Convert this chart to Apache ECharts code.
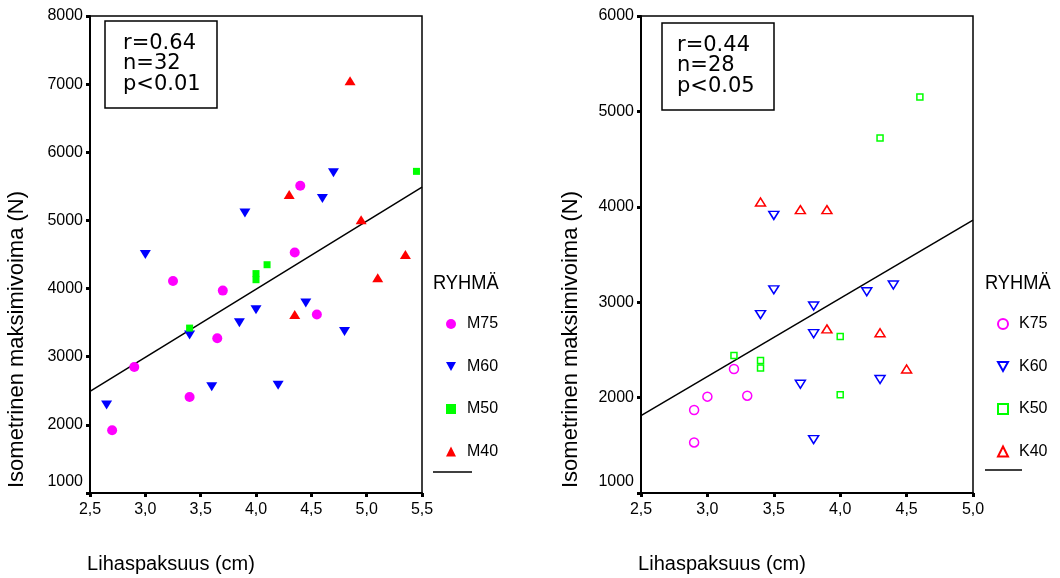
<!DOCTYPE html>
<html>
<head>
<meta charset="utf-8">
<script src="https://cdn.jsdelivr.net/npm/echarts@6/dist/echarts.min.js"></script>
<style>html,body{margin:0;padding:0;background:#fff}#c{width:1060px;height:578px}</style>
</head>
<body>
<div id="c"></div>
<script>
// ---- data (x = Lihaspaksuus cm, y = Isometrinen maksimivoima N) ----
const m75 = [[4.4,5510],[4.35,4530],[3.25,4110],[3.7,3970],[4.55,3620],[3.65,3270],[2.9,2850],[3.4,2410],[2.7,1920]];
const m60 = [[4.7,5700],[4.6,5320],[3.9,5110],[3.0,4500],[4.45,3790],[4.0,3690],[3.85,3500],[3.4,3320],[4.8,3370],[3.6,2560],[4.2,2580],[2.65,2290]];
const m50 = [[5.45,5720],[4.1,4350],[4.0,4220],[4.0,4130],[3.4,3420]];
const m40 = [[4.85,7050],[4.3,5380],[4.95,5010],[5.35,4500],[5.1,4160],[4.35,3620]];
const fitM = [[2.5,2490],[5.5,5490]];

const k75 = [[3.2,2300],[3.0,2010],[3.3,2020],[2.9,1870],[2.9,1530]];
const k60 = [[3.5,3910],[3.5,3130],[4.4,3180],[4.2,3110],[3.8,2960],[3.4,2870],[3.8,2670],[3.7,2140],[4.3,2190],[3.8,1560]];
const k50 = [[4.6,5150],[4.3,4720],[3.2,2440],[3.4,2390],[3.4,2310],[4.0,2640],[4.0,2030]];
const k40 = [[3.4,4050],[3.7,3970],[3.9,3970],[3.9,2720],[4.3,2680],[4.5,2300]];
const fitK = [[2.5,1810],[5.0,3860]];

const groupsM = ['M75','M60','M50','M40'];
const groupsK = ['K75','K60','K50','K40'];
const statsM = ['r=0.64','n=32','p<0.01'];
const statsK = ['r=0.44','n=28','p<0.05'];
const xTitle = 'Lihaspaksuus (cm)';
const yTitle = 'Isometrinen maksimivoima (N)';
const legendTitle = 'RYHMÄ';

const FONT = '"Liberation Sans", Arial, sans-serif';
const MAG = '#ff00ff', BLU = '#0000ff', GRN = '#00ff00', RED = '#ff0000';
const DOWN = 'path://M0,0 L10,0 L5,9 Z';

function xAxisOf(idx, min, max) {
  return {
    gridIndex: idx, type: 'value', min: min, max: max, interval: 0.5,
    name: xTitle, nameLocation: 'middle', nameGap: 61,
    nameTextStyle: {fontFamily: FONT, fontSize: 20, color: '#000', padding: [0, 170, 0, 0]},
    axisLine: {lineStyle: {color: '#000', width: 2}},
    axisTick: {length: 4, lineStyle: {color: '#000', width: 3}},
    axisLabel: {fontFamily: FONT, fontSize: 16, color: '#000', margin: 9,
      formatter: v => v.toFixed(1).replace('.', ',')},
    splitLine: {show: false}
  };
}
function yAxisOf(idx, min, max, gap) {
  return {
    gridIndex: idx, type: 'value', min: min, max: max, interval: 1000,
    name: yTitle, nameLocation: 'middle', nameGap: gap, nameRotate: 90,
    nameTextStyle: {fontFamily: FONT, fontSize: 22, color: '#000', padding: [0, 170, 0, 0]},
    axisLine: {lineStyle: {color: '#000', width: 2}},
    axisTick: {length: 4, lineStyle: {color: '#000', width: 3}},
    axisLabel: {fontFamily: FONT, fontSize: 16, color: '#000', margin: 7,
      formatter: v => v === min ? '{lo|' + v + '}' : String(v),
      rich: {lo: {fontFamily: FONT, fontSize: 16, color: '#000', padding: [0, 0, 22, 0]}}},
    splitLine: {show: false}
  };
}

const filled = c => ({color: c, opacity: 1});
const hollow = c => ({color: '#fff', borderColor: c, borderWidth: 1.5, opacity: 1});

function legendOf(names, left) {
  return {
    data: [
      {name: names[0], icon: 'circle'},
      {name: names[1], icon: DOWN},
      {name: names[2], icon: 'rect'},
      {name: names[3], icon: 'triangle'}
    ],
    orient: 'vertical', left: left, top: 311, itemWidth: 10, itemHeight: 10, itemGap: 26.5,
    textStyle: {fontFamily: FONT, fontSize: 16, color: '#000', padding: [0, 0, 0, 6]}
  };
}

const option = {
  animation: false,
  backgroundColor: '#fff',
  grid: [
    {left: 90, top: 16, width: 332, height: 477, outerBoundsMode: 'none', containLabel: false, show: true, borderColor: '#000', borderWidth: 1.5},
    {left: 641, top: 16, width: 332, height: 477, outerBoundsMode: 'none', containLabel: false, show: true, borderColor: '#000', borderWidth: 1.5}
  ],
  xAxis: [xAxisOf(0, 2.5, 5.5), xAxisOf(1, 2.5, 5.0)],
  yAxis: [yAxisOf(0, 1000, 8000, 62), yAxisOf(1, 1000, 6000, 59)],
  legend: [legendOf(groupsM, 441), legendOf(groupsK, 992)],
  graphic: [
    {type: 'text', left: 433, top: 273, scaleX: 0.87, style: {text: legendTitle, font: '21px "Liberation Sans", Arial, sans-serif', fill: '#000'}},
    {type: 'text', left: 985, top: 273, scaleX: 0.87, style: {text: legendTitle, font: '21px "Liberation Sans", Arial, sans-serif', fill: '#000'}},
    {type: 'line', shape: {x1: 433, y1: 472, x2: 472, y2: 472}, style: {stroke: '#000', lineWidth: 1.5}},
    {type: 'line', shape: {x1: 985, y1: 470, x2: 1022, y2: 470}, style: {stroke: '#000', lineWidth: 1.5}},
    {type: 'rect', shape: {x: 105, y: 21, width: 112, height: 87}, style: {fill: '#fff', stroke: '#000', lineWidth: 1.5}, z: 10},
    {type: 'text', left: 123, top: 33, z: 11, style: {text: statsM.join('\n'), font: '21px "DejaVu Sans"', fill: '#000', lineHeight: 20.5}},
    {type: 'rect', shape: {x: 662, y: 23, width: 112, height: 87}, style: {fill: '#fff', stroke: '#000', lineWidth: 1.5}, z: 10},
    {type: 'text', left: 677, top: 35, z: 11, style: {text: statsK.join('\n'), font: '21px "DejaVu Sans"', fill: '#000', lineHeight: 20.5}}
  ],
  series: [
    {type: 'line', name: 'fitM', xAxisIndex: 0, yAxisIndex: 0, data: fitM, symbol: 'none', lineStyle: {color: '#000', width: 1.5}, z: 1},
    {type: 'scatter', name: 'M75', xAxisIndex: 0, yAxisIndex: 0, data: m75, symbol: 'circle', symbolSize: 10, itemStyle: filled(MAG)},
    {type: 'scatter', name: 'M60', xAxisIndex: 0, yAxisIndex: 0, data: m60, symbol: 'triangle', symbolRotate: 180, symbolSize: [11, 9], itemStyle: filled(BLU)},
    {type: 'scatter', name: 'M50', xAxisIndex: 0, yAxisIndex: 0, data: m50, symbol: 'rect', symbolSize: 7, itemStyle: filled(GRN)},
    {type: 'scatter', name: 'M40', xAxisIndex: 0, yAxisIndex: 0, data: m40, symbol: 'triangle', symbolSize: [11, 9], itemStyle: filled(RED)},
    {type: 'line', name: 'fitK', xAxisIndex: 1, yAxisIndex: 1, data: fitK, symbol: 'none', lineStyle: {color: '#000', width: 1.5}, z: 1},
    {type: 'scatter', name: 'K75', xAxisIndex: 1, yAxisIndex: 1, data: k75, symbol: 'circle', symbolSize: 9, itemStyle: hollow(MAG)},
    {type: 'scatter', name: 'K60', xAxisIndex: 1, yAxisIndex: 1, data: k60, symbol: 'triangle', symbolRotate: 180, symbolSize: [10, 8], itemStyle: hollow(BLU)},
    {type: 'scatter', name: 'K50', xAxisIndex: 1, yAxisIndex: 1, data: k50, symbol: 'rect', symbolSize: 6, itemStyle: hollow(GRN)},
    {type: 'scatter', name: 'K40', xAxisIndex: 1, yAxisIndex: 1, data: k40, symbol: 'triangle', symbolSize: [10, 8], itemStyle: hollow(RED)}
  ]
};
const chart = echarts.init(document.getElementById('c'), null, {renderer: 'canvas'});
chart.setOption(option);
</script>
</body>
</html>
